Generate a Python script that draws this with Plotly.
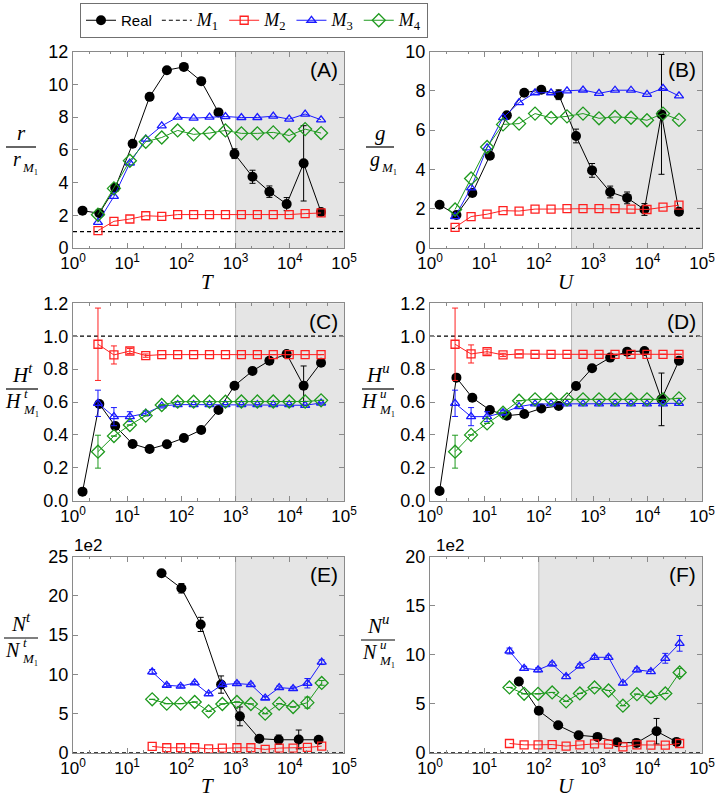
import math
import plotly.graph_objects as go

# ---------------- data ----------------
x_real = [1.5, 3.06, 6.0, 12.6, 25.9, 54, 111, 232, 483, 953, 2050, 4200, 8750, 18000, 37700]
x_model = [2.89, 5.69, 11.2, 22.0, 43.4, 85.3, 168, 330, 650, 1279, 2518, 4955, 9750, 19190, 37760]
x_real_n = [43, 100, 227, 540, 1200, 2740, 6250, 14600, 34000]
x_model_n = [28.9, 53.7, 97, 176, 318, 569, 1058, 1914, 3516, 6365, 11500, 21140, 38800]
m1_x = [1, 100000]
m1_y = [1, 1]
m1_y_n = [0.01, 0.01]

# Panel A  r / r_M1
real_A = [2.28, 2.12, 3.68, 6.37, 9.23, 10.86, 11.06, 10.19, 8.28, 5.76, 4.35, 3.44, 2.68, 5.17, 2.2]
real_A_err = [0, 0, 0, 0, 0, 0, 0, 0, 0.2, 0.3, 0.4, 0.35, 0.4, 2.3, 0.1]
m2_A = [1.06, 1.63, 1.77, 1.97, 1.93, 2.04, 2.04, 2.04, 2.04, 2.04, 2.04, 2.04, 2.04, 2.1, 2.14]
m3_A = [1.57, 3.15, 5.19, 6.65, 7.46, 7.99, 7.93, 7.99, 8.03, 7.97, 7.97, 8.05, 7.87, 8.18, 7.83]
m4_A = [2.03, 3.64, 5.33, 6.49, 6.75, 7.18, 6.94, 7.02, 7.18, 7.0, 7.0, 7.06, 6.87, 7.26, 7.02]

# Panel B  g / g_M1
real_B = [2.2, 1.68, 2.8, 4.7, 6.75, 7.9, 8.05, 7.8, 5.7, 3.95, 2.85, 2.55, 1.96, 6.8, 1.85]
real_B_err = [0, 0, 0, 0, 0, 0, 0.15, 0.25, 0.35, 0.35, 0.3, 0.3, 0.3, 3.05, 0]
m2_B = [1.05, 1.6, 1.72, 1.9, 1.88, 1.98, 1.98, 2.0, 2.0, 2.0, 2.0, 1.98, 1.96, 2.08, 2.18]
m3_B = [1.6, 3.06, 5.1, 6.63, 7.4, 7.9, 7.9, 8.0, 8.04, 7.87, 8.03, 8.03, 7.82, 8.13, 7.74]
m4_B = [1.96, 3.54, 5.14, 6.29, 6.33, 6.84, 6.62, 6.7, 6.84, 6.6, 6.67, 6.63, 6.5, 6.84, 6.52]

# Panel C  H^t / H^t_M1
real_C = [0.055, 0.588, 0.454, 0.345, 0.314, 0.343, 0.381, 0.43, 0.551, 0.699, 0.789, 0.851, 0.892, 0.699, 0.839]
real_C_err = [0, 0, 0, 0, 0, 0, 0, 0, 0, 0, 0, 0, 0, 0.12, 0]
m2_C = [0.951, 0.886, 0.91, 0.882, 0.888, 0.888, 0.888, 0.888, 0.888, 0.888, 0.888, 0.888, 0.888, 0.888, 0.888]
m2_C_err = [0.22, 0.055, 0.015, 0.01, 0, 0, 0, 0, 0, 0, 0, 0, 0, 0, 0]
m3_C = [0.592, 0.511, 0.511, 0.531, 0.576, 0.584, 0.584, 0.584, 0.584, 0.584, 0.584, 0.584, 0.584, 0.58, 0.594]
m3_C_err = [0.08, 0.055, 0.03, 0.015, 0, 0, 0, 0, 0, 0, 0, 0, 0, 0, 0]
m4_C = [0.298, 0.393, 0.46, 0.517, 0.582, 0.602, 0.602, 0.602, 0.602, 0.603, 0.603, 0.603, 0.603, 0.603, 0.61]
m4_C_err = [0.1, 0, 0, 0, 0, 0, 0, 0, 0, 0, 0, 0, 0, 0, 0]

# Panel D  H^u / H^u_M1
real_D = [0.059, 0.748, 0.626, 0.551, 0.517, 0.527, 0.561, 0.576, 0.697, 0.805, 0.87, 0.906, 0.91, 0.616, 0.851]
real_D_err = [0, 0, 0, 0, 0, 0, 0, 0, 0, 0, 0, 0, 0, 0.16, 0]
m2_D = [0.951, 0.892, 0.906, 0.886, 0.892, 0.89, 0.89, 0.89, 0.89, 0.89, 0.89, 0.89, 0.89, 0.89, 0.89]
m2_D_err = [0.22, 0.055, 0.015, 0.01, 0, 0, 0, 0, 0, 0, 0, 0, 0, 0, 0]
m3_D = [0.592, 0.511, 0.511, 0.535, 0.572, 0.588, 0.588, 0.588, 0.588, 0.588, 0.588, 0.588, 0.588, 0.588, 0.592]
m3_D_err = [0.08, 0.055, 0.03, 0.015, 0, 0, 0, 0, 0, 0, 0, 0, 0, 0, 0]
m4_D = [0.298, 0.4, 0.47, 0.535, 0.608, 0.616, 0.616, 0.616, 0.616, 0.616, 0.616, 0.616, 0.616, 0.616, 0.622]
m4_D_err = [0.1, 0, 0, 0, 0, 0, 0, 0, 0, 0, 0, 0, 0, 0, 0]

# Panel E  N^t / N^t_M1  (x 1e2)
real_E = [22.87, 20.95, 16.35, 8.69, 4.64, 1.79, 1.66, 1.7, 1.66]
real_E_err = [0, 0.6, 0.9, 1.1, 1.2, 0, 0.6, 1.2, 0]
m2_E = [0.81, 0.64, 0.64, 0.64, 0.51, 0.6, 0.64, 0.64, 0.43, 0.6, 0.6, 0.68, 0.85]
m3_E = [10.31, 8.6, 8.48, 8.9, 7.5, 8.69, 8.82, 8.69, 6.98, 8.3, 8.18, 8.86, 11.54]
m3_E_err = [0.3, 0.2, 0.2, 0.2, 0.2, 0.2, 0.2, 0.2, 0.2, 0.2, 0.2, 0.6, 0.3]
m4_E = [6.81, 6.26, 6.26, 6.47, 5.28, 6.22, 6.47, 6.22, 4.98, 6.26, 5.83, 6.39, 8.9]
m4_E_err = [0, 0, 0, 0, 0, 0, 0, 0, 0, 0, 0, 0.7, 0.3]

# Panel F  N^u / N^u_M1  (x 1e2)
real_F = [7.26, 4.29, 2.8, 1.79, 1.62, 1.08, 1.01, 2.2, 1.11]
real_F_err = [0, 0, 0, 0, 0, 0, 0, 1.3, 0]
m2_F = [0.95, 0.81, 0.81, 0.84, 0.68, 0.81, 0.91, 0.88, 0.61, 0.81, 0.78, 0.78, 0.95]
m3_F = [10.37, 8.61, 8.45, 9.05, 7.77, 8.85, 9.73, 9.73, 7.09, 8.45, 8.28, 9.63, 11.15]
m3_F_err = [0.3, 0.2, 0.2, 0.2, 0.2, 0.2, 0.2, 0.2, 0.2, 0.2, 0.2, 0.5, 0.8]
m4_F = [6.66, 6.01, 6.01, 6.15, 5.24, 6.05, 6.66, 6.35, 4.8, 5.98, 5.64, 6.05, 8.18]
m4_F_err = [0, 0, 0, 0, 0, 0, 0, 0, 0, 0, 0, 0, 0.4]

shade_start = [1e3, 400, 1e3, 400, 1e3, 100]
panel_letters = ["(A)", "(B)", "(C)", "(D)", "(E)", "(F)"]
x_tickvals = [1, 10, 100, 1000, 10000, 100000]
x_ticktext = ["10<sup>0</sup>", "10<sup>1</sup>", "10<sup>2</sup>", "10<sup>3</sup>", "10<sup>4</sup>", "10<sup>5</sup>"]

# ---------------- layout helpers ----------------
W, H = 717, 801
def px(x):
    return x / W
def py(y):
    return 1 - y / H

left_dom = [px(73), px(344)]
right_dom = [px(430), px(702)]
row_dom = [[py(248), py(51.5)], [py(500.7), py(303.3)], [py(752.8), py(556.5)]]

SANS = "Liberation Sans, Arial, sans-serif"
SERIF = "Liberation Serif, Times New Roman, serif"
FRAME = "#8a8a8a"

C_REAL = "black"
C_M2 = "#ff2020"
C_M3 = "#1a1aff"
C_M4 = "#1f9a1f"

fig = go.Figure()

panels = [
    dict(xr=x_real, xm=x_model, real=real_A, real_err=real_A_err, m2=m2_A, m2e=None, m3=m3_A, m3e=None, m4=m4_A, m4e=None, m1=m1_y),
    dict(xr=x_real, xm=x_model, real=real_B, real_err=real_B_err, m2=m2_B, m2e=None, m3=m3_B, m3e=None, m4=m4_B, m4e=None, m1=m1_y),
    dict(xr=x_real, xm=x_model, real=real_C, real_err=real_C_err, m2=m2_C, m2e=m2_C_err, m3=m3_C, m3e=m3_C_err, m4=m4_C, m4e=m4_C_err, m1=m1_y),
    dict(xr=x_real, xm=x_model, real=real_D, real_err=real_D_err, m2=m2_D, m2e=m2_D_err, m3=m3_D, m3e=m3_D_err, m4=m4_D, m4e=m4_D_err, m1=m1_y),
    dict(xr=x_real_n, xm=x_model_n, real=real_E, real_err=real_E_err, m2=m2_E, m2e=None, m3=m3_E, m3e=m3_E_err, m4=m4_E, m4e=m4_E_err, m1=m1_y_n),
    dict(xr=x_real_n, xm=x_model_n, real=real_F, real_err=real_F_err, m2=m2_F, m2e=None, m3=m3_F, m3e=m3_F_err, m4=m4_F, m4e=m4_F_err, m1=m1_y_n),
]
y_ranges = [[0, 12], [0, 10], [0, 1.2], [0, 1.2], [0, 25], [0, 20]]
y_dticks = [2, 2, 0.2, 0.2, 5, 5]

def err(arr, color):
    if arr is None:
        return None
    return dict(type="data", array=arr, visible=True, color=color, thickness=1, width=3)

def mname(k):
    return ('<span style="font-family:Liberation Serif;font-size:18px"><i>M</i>'
            f'<sub>{k}</sub></span>')

m_names = [mname(1), mname(2), mname(3), mname(4)]

for i, p in enumerate(panels):
    xa = "x" if i == 0 else f"x{i+1}"
    ya = "y" if i == 0 else f"y{i+1}"
    show = i == 0
    fig.add_trace(go.Scatter(x=p["xr"], y=p["real"], mode="lines+markers", name="Real",
                             line=dict(color=C_REAL, width=1),
                             marker=dict(symbol="circle", size=10, color=C_REAL),
                             error_y=err(p["real_err"], C_REAL),
                             xaxis=xa, yaxis=ya, showlegend=show, legendrank=1))
    fig.add_trace(go.Scatter(x=m1_x, y=p["m1"], mode="lines", name=m_names[0],
                             line=dict(color="black", width=1.2, dash="4px,3px"),
                             xaxis=xa, yaxis=ya, showlegend=show, legendrank=2))
    fig.add_trace(go.Scatter(x=p["xm"], y=p["m2"], mode="lines+markers", name=m_names[1],
                             line=dict(color=C_M2, width=1),
                             marker=dict(symbol="square-open", size=8, color=C_M2, line=dict(width=1.3)),
                             error_y=err(p["m2e"], C_M2),
                             xaxis=xa, yaxis=ya, showlegend=show, legendrank=3))
    fig.add_trace(go.Scatter(x=p["xm"], y=p["m3"], mode="lines+markers", name=m_names[2],
                             line=dict(color=C_M3, width=1),
                             marker=dict(symbol="triangle-up-open", size=8, color=C_M3, line=dict(width=1.3)),
                             error_y=err(p["m3e"], C_M3),
                             xaxis=xa, yaxis=ya, showlegend=show, legendrank=4))
    fig.add_trace(go.Scatter(x=p["xm"], y=p["m4"], mode="lines+markers", name=m_names[3],
                             line=dict(color=C_M4, width=1),
                             marker=dict(symbol="diamond-open", size=10, color=C_M4, line=dict(width=1.3)),
                             error_y=err(p["m4e"], C_M4),
                             xaxis=xa, yaxis=ya, showlegend=show, legendrank=5))

layout = dict(
    width=W, height=H,
    margin=dict(l=0, r=0, t=0, b=0, autoexpand=False),
    paper_bgcolor="white", plot_bgcolor="white",
    hovermode=False,
    font=dict(family=SANS, size=17, color="black"),
    legend=dict(orientation="h", xref="paper", yref="paper", x=px(80), y=py(3),
                xanchor="left", yanchor="top",
                bordercolor="#707070", borderwidth=1, bgcolor="white",
                font=dict(family=SANS, size=15, color="black"),
                itemwidth=30, tracegroupgap=0, traceorder="normal"),
    shapes=[], annotations=[],
)

for i in range(6):
    col = i % 2
    row = i // 2
    xk = "xaxis" if i == 0 else f"xaxis{i+1}"
    yk = "yaxis" if i == 0 else f"yaxis{i+1}"
    xa = "x" if i == 0 else f"x{i+1}"
    ya = "y" if i == 0 else f"y{i+1}"
    layout[xk] = dict(type="log", range=[0, 5], domain=left_dom if col == 0 else right_dom,
                      anchor=ya, tickvals=x_tickvals, ticktext=x_ticktext,
                      showline=True, linecolor=FRAME, linewidth=1, mirror="ticks",
                      ticks="inside", ticklen=5, tickcolor=FRAME, showgrid=False, zeroline=False,
                      tickfont=dict(family=SANS, size=17, color="black"),
                      minor=dict(ticks="inside", ticklen=2.5, tickcolor=FRAME, showgrid=False),
                      automargin=False, fixedrange=True)
    layout[yk] = dict(range=y_ranges[i], dtick=y_dticks[i], tick0=0, domain=row_dom[row],
                      anchor=xa, showline=True, linecolor=FRAME, linewidth=1, mirror="ticks",
                      ticks="inside", ticklen=5, tickcolor=FRAME, showgrid=False, zeroline=False,
                      tickfont=dict(family=SANS, size=18, color="black"),
                      tickformat=".1f" if row == 1 else None,
                      automargin=False, fixedrange=True)
    xs = math.log10(shade_start[i]) / 5
    layout["shapes"].append(dict(type="rect", xref=f"{xa} domain", yref=f"{ya} domain",
                                 x0=xs, x1=1, y0=0, y1=1,
                                 fillcolor="#e5e5e5", line=dict(width=0), layer="below"))
    layout["shapes"].append(dict(type="line", xref=f"{xa} domain", yref=f"{ya} domain",
                                 x0=xs, x1=xs, y0=0, y1=1,
                                 line=dict(width=1, color="#b5b5b5"), layer="below"))
    layout["annotations"].append(dict(text=panel_letters[i], xref=f"{xa} domain", yref=f"{ya} domain",
                                      x=0.985, y=0.975, xanchor="right", yanchor="top", showarrow=False,
                                      font=dict(family=SANS, size=21, color="black")))

# x-axis titles
for (xc, yc, t) in [(208, 282, "T"), (566, 282, "U"), (208, 786, "T"), (566, 786, "U")]:
    layout["annotations"].append(dict(text=f"<i>{t}</i>", xref="paper", yref="paper", x=px(xc), y=py(yc),
                                      xanchor="center", yanchor="middle", showarrow=False,
                                      font=dict(family=SERIF, size=21, color="black")))
# 1e2 labels
for xc in [88, 450]:
    layout["annotations"].append(dict(text="1e2", xref="paper", yref="paper", x=px(xc), y=py(545),
                                      xanchor="center", yanchor="middle", showarrow=False,
                                      font=dict(family=SANS, size=17, color="black")))

# y-axis fraction labels
def ann(text, x, y, xanchor, yanchor, size=21):
    layout["annotations"].append(dict(text=text, xref="paper", yref="paper", x=px(x), y=py(y),
                                      xanchor=xanchor, yanchor=yanchor, showarrow=False, borderpad=0,
                                      font=dict(family=SERIF, size=size, color="black")))

def frac(xc, yl, w, num, base, sup=None):
    layout["shapes"].append(dict(type="line", xref="paper", yref="paper",
                                 x0=px(xc - w / 2), x1=px(xc + w / 2), y0=py(yl), y1=py(yl),
                                 line=dict(color="black", width=1.2)))
    ann(num, xc, yl - 1, "center", "bottom")
    # denominator: base letter, then stacked superscript / subscript M1
    ann(f"<i>{base}</i>", xc + 1, yl, "right", "top", size=20)
    if sup:
        ann(f"<i>{sup}</i>", xc + 1, yl + 13, "left", "bottom", size=13)
    ann("<i>M</i>₁", xc, yl + 12, "left", "top", size=13)

frac(21, 147, 30, "<i>r</i>", "r")
frac(380, 147, 28, "<i>g</i>", "g")
frac(22, 389, 32, "<i>H</i><sup><i>t</i></sup>", "H", "t")
frac(378, 389, 32, "<i>H</i><sup><i>u</i></sup>", "H", "u")
frac(21, 638, 34, "<i>N</i><sup><i>t</i></sup>", "N", "t")
frac(378, 640, 34, "<i>N</i><sup><i>u</i></sup>", "N", "u")

fig.update_layout(**layout)
fig.write_html("out.html", config={"displayModeBar": False},
               post_script="document.body.style.margin='0';document.body.style.overflow='hidden';")
